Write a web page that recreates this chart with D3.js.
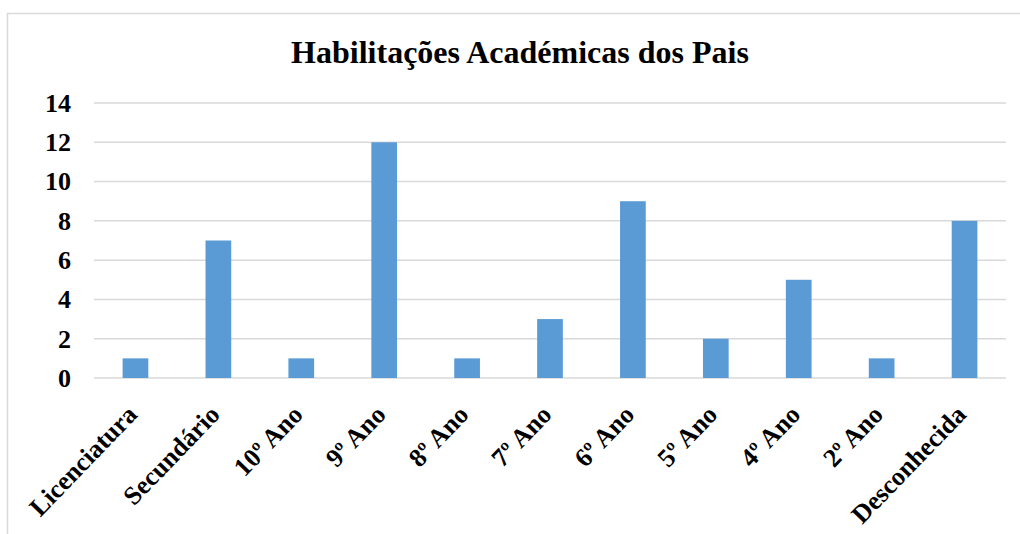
<!DOCTYPE html>
<html>
<head>
<meta charset="utf-8">
<script src="https://cdn.jsdelivr.net/npm/d3@7"></script>
<style>
  html, body { margin: 0; padding: 0; background: #fff; }
  svg { display: block; }
</style>
</head>
<body>
<script>
const categories = ["Licenciatura", "Secundário", "10º Ano", "9º Ano", "8º Ano", "7º Ano",
  "6º Ano", "5º Ano", "4º Ano", "2º Ano", "Desconhecida"];
const values = [1, 7, 1, 12, 1, 3, 9, 2, 5, 1, 8];
const yTicks = [0, 2, 4, 6, 8, 10, 12, 14];
const title = "Habilitações Académicas dos Pais";

const width = 1020, height = 534;
const margin = {top: 103, right: 14, bottom: 156, left: 94};
const font = "'Liberation Serif', 'Times New Roman', serif";

const svg = d3.select("body").append("svg")
    .attr("width", width)
    .attr("height", height)
    .attr("font-family", font)
    .attr("font-weight", "bold");

// chart border (runs past the page edge on the right and bottom)
svg.append("rect")
    .attr("x", 7.5).attr("y", 13.5)
    .attr("width", width + 20).attr("height", height + 20)
    .attr("fill", "none")
    .attr("stroke", "#d9d9d9")
    .attr("stroke-width", 1.5);

const x = d3.scaleBand()
    .domain(categories)
    .range([margin.left, width - margin.right])
    .paddingInner(0.69)
    .paddingOuter(0.345);

const y = d3.scaleLinear()
    .domain([0, 14])
    .range([height - margin.bottom, margin.top]);

// gridlines
svg.append("g")
  .selectAll("line")
  .data(yTicks)
  .join("line")
    .attr("x1", margin.left)
    .attr("x2", width - margin.right)
    .attr("y1", d => y(d))
    .attr("y2", d => y(d))
    .attr("stroke", "#d9d9d9")
    .attr("stroke-width", 1.5);

// bars
svg.append("g")
    .attr("fill", "#5b9bd5")
  .selectAll("rect")
  .data(values)
  .join("rect")
    .attr("x", (d, i) => x(categories[i]))
    .attr("y", d => y(d))
    .attr("width", x.bandwidth())
    .attr("height", d => y(0) - y(d));

// y axis
const yAxis = svg.append("g")
    .attr("transform", `translate(${margin.left},0)`)
    .call(d3.axisLeft(y).tickValues(yTicks).tickSize(0).tickPadding(23));
yAxis.select(".domain").remove();
yAxis.selectAll("text")
    .attr("font-family", font)
    .attr("font-size", 26)
    .attr("font-weight", "bold")
    .attr("fill", "#000");

// x labels
svg.append("g")
  .selectAll("text")
  .data(categories)
  .join("text")
    .attr("transform", d => `translate(${x(d) + x.bandwidth() / 2 + 3},${y(0) + 38}) rotate(-46)`)
    .attr("text-anchor", "end")
    .attr("font-size", 26)
    .attr("fill", "#000")
    .text(d => d);

// title
svg.append("text")
    .attr("x", 520)
    .attr("y", 63)
    .attr("text-anchor", "middle")
    .attr("font-size", 32)
    .attr("fill", "#000")
    .text(title);
</script>
</body>
</html>
